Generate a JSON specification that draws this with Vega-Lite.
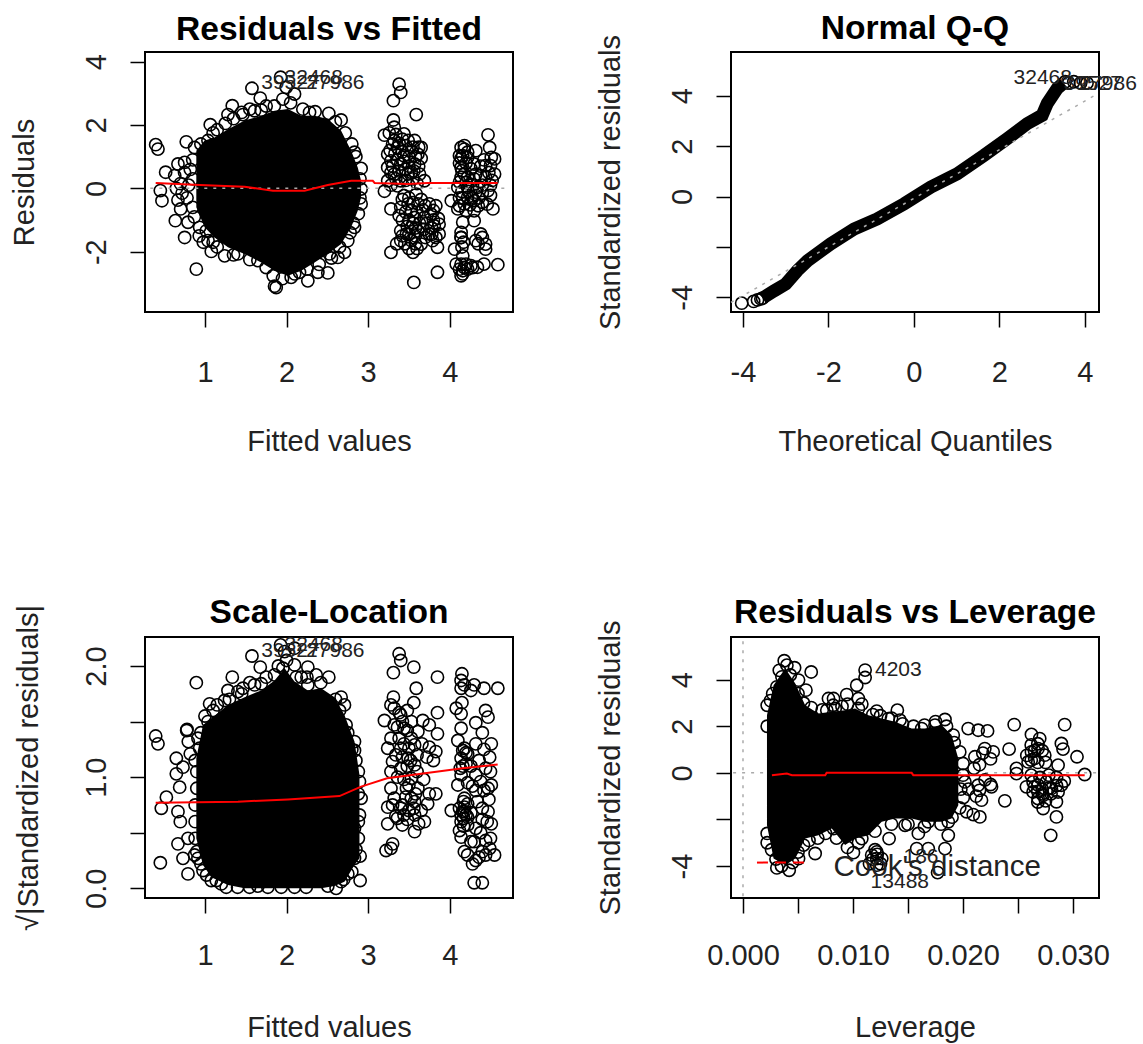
{"$schema":"https://vega.github.io/schema/vega-lite/v6.json","padding":{"left":9,"top":10,"right":0,"bottom":0},"background":"white","bounds":"flush","columns":2,"spacing":{"row":325,"column":218},"config":{"view":{"stroke":"#000","strokeWidth":2},"title":{"font":"Liberation Sans","fontSize":33.6,"fontWeight":"bold","color":"#000"},"axis":{"labelFont":"Liberation Sans","titleFont":"Liberation Sans","labelFontSize":29,"titleFontSize":29,"titleFontWeight":"normal","labelColor":"#222","titleColor":"#222","tickColor":"#000","tickWidth":1.5,"tickSize":15,"domain":false,"grid":false,"labelOverlap":false,"labelFlush":false,"labelBound":false}},"concat":[
{"title":{"text":"Residuals vs Fitted","offset":5},"width":368,"height":260,"encoding":{"x":{"field":"x","type":"quantitative","scale":{"domain":[0.265,4.776],"nice":false,"zero":false},"axis":{"title":"Fitted values","values":[1,2,3,4],"labelPadding":31,"titlePadding":40}},"y":{"field":"y","type":"quantitative","scale":{"domain":[-3.904,4.306],"nice":false,"zero":false},"axis":{"title":"Residuals","values":[-2,0,2,4],"labelAngle":-90,"labelAlign":"center","labelBaseline":"bottom","labelPadding":19,"titlePadding":43,"labelExpr":"datum.value<0?'-'+abs(datum.value):''+datum.value"}}},"layer":[
{"mark":{"type":"area","color":"#000","opacity":1},"data":{"values":[{"x":0.894,"y":1.19,"y2":-0.6},{"x":0.996,"y":1.51,"y2":-1.23},{"x":1.118,"y":1.61,"y2":-1.55},{"x":1.282,"y":1.87,"y2":-1.86},{"x":1.486,"y":2.14,"y2":-2.07},{"x":1.69,"y":2.29,"y2":-2.34},{"x":1.853,"y":2.45,"y2":-2.6},{"x":2.016,"y":2.51,"y2":-2.76},{"x":2.18,"y":2.29,"y2":-2.6},{"x":2.343,"y":2.29,"y2":-2.34},{"x":2.506,"y":2.19,"y2":-2.07},{"x":2.669,"y":1.82,"y2":-1.76},{"x":2.792,"y":1.19,"y2":-1.23},{"x":2.873,"y":0.66,"y2":-0.71},{"x":2.914,"y":0.24,"y2":-0.28}]},"encoding":{"y2":{"field":"y2"}}},
{"mark":{"type":"point","shape":"circle","filled":false,"stroke":"#000","strokeWidth":1.6,"size":150,"opacity":1},"data":{"values":[{"x":0.396,"y":1.38},{"x":0.424,"y":1.24},{"x":0.518,"y":0.51},{"x":0.453,"y":-0.07},{"x":0.473,"y":-0.39},{"x":0.637,"y":-1.02},{"x":0.669,"y":-0.37},{"x":0.702,"y":-0.65},{"x":0.792,"y":-1.07},{"x":0.751,"y":-1.55},{"x":0.771,"y":1.47},{"x":0.894,"y":-2.55},{"x":0.669,"y":0.77},{"x":0.629,"y":0.4},{"x":0.751,"y":0.82},{"x":0.873,"y":1.29},{"x":1.037,"y":1.51},{"x":1.065,"y":2.01},{"x":1.282,"y":2.33},{"x":1.335,"y":2.61},{"x":1.465,"y":2.33},{"x":1.576,"y":3.16},{"x":1.678,"y":2.85},{"x":1.608,"y":2.45},{"x":1.69,"y":2.47},{"x":1.853,"y":-3.09},{"x":1.873,"y":-3.13},{"x":2.261,"y":-2.92},{"x":2.506,"y":-2.67},{"x":2.71,"y":-2.02},{"x":2.629,"y":-2.18},{"x":2.527,"y":-2.07},{"x":2.914,"y":0.63},{"x":2.914,"y":-0.49},{"x":2.833,"y":1.14},{"x":2.669,"y":2.16},{"x":2.518,"y":2.37},{"x":2.282,"y":2.4},{"x":2.098,"y":2.98},{"x":1.955,"y":2.82},{"x":1.927,"y":3.51},{"x":1.996,"y":3.19},{"x":1.078,"y":-1.99},{"x":1.241,"y":-2.13},{"x":1.404,"y":-2.07},{"x":1.649,"y":-2.28},{"x":1.037,"y":-1.65},{"x":0.935,"y":-1.23},{"x":1.016,"y":-1.34},{"x":1.837,"y":-2.76},{"x":2.057,"y":-2.81},{"x":2.159,"y":-2.65},{"x":2.384,"y":-2.65},{"x":2.914,"y":-0.02},{"x":2.833,"y":-1.23},{"x":2.751,"y":-1.65},{"x":0.85,"y":0.9},{"x":0.82,"y":0.6},{"x":0.85,"y":0.3},{"x":0.8,"y":0.1},{"x":0.78,"y":-0.3},{"x":0.85,"y":-0.6},{"x":0.87,"y":-0.9},{"x":0.93,"y":-1.5},{"x":0.98,"y":-1.7},{"x":1.0,"y":1.0},{"x":0.95,"y":1.4},{"x":1.1,"y":1.75},{"x":1.15,"y":1.85},{"x":1.25,"y":2.05},{"x":1.35,"y":2.2},{"x":1.45,"y":2.4},{"x":1.55,"y":2.5},{"x":1.75,"y":2.6},{"x":1.85,"y":2.6},{"x":2.05,"y":2.7},{"x":2.2,"y":2.5},{"x":2.35,"y":2.42},{"x":2.6,"y":2.1},{"x":2.72,"y":1.75},{"x":2.8,"y":1.4},{"x":2.85,"y":1.0},{"x":2.9,"y":0.3},{"x":2.9,"y":-0.3},{"x":2.88,"y":-0.8},{"x":2.82,"y":-1.1},{"x":2.78,"y":-1.4},{"x":2.65,"y":-1.85},{"x":2.55,"y":-2.2},{"x":2.4,"y":-2.4},{"x":2.25,"y":-2.55},{"x":2.1,"y":-2.7},{"x":1.95,"y":-2.85},{"x":1.75,"y":-2.5},{"x":1.55,"y":-2.25},{"x":1.35,"y":-2.1},{"x":1.15,"y":-1.85},{"x":1.1,"y":-1.7},{"x":0.7,"y":0.15},{"x":0.75,"y":0.5},{"x":0.65,"y":0.0},{"x":0.72,"y":-0.15},{"x":3.38,"y":3.29},{"x":3.4,"y":3.03},{"x":3.31,"y":2.77},{"x":3.59,"y":2.33},{"x":3.31,"y":2.16},{"x":3.2,"y":1.68},{"x":3.65,"y":1.29},{"x":3.32,"y":1.93},{"x":3.44,"y":1.72},{"x":3.57,"y":1.51},{"x":3.24,"y":1.08},{"x":3.36,"y":1.29},{"x":3.53,"y":1.19},{"x":3.24,"y":0.66},{"x":3.4,"y":0.77},{"x":3.57,"y":0.77},{"x":3.32,"y":0.45},{"x":3.49,"y":0.45},{"x":3.63,"y":0.45},{"x":3.69,"y":0.24},{"x":3.24,"y":0.24},{"x":3.4,"y":0.24},{"x":3.32,"y":1.51},{"x":3.49,"y":1.51},{"x":3.61,"y":1.08},{"x":3.28,"y":0.87},{"x":3.44,"y":1.03},{"x":3.53,"y":0.51},{"x":3.26,"y":1.75},{"x":3.34,"y":1.7},{"x":3.42,"y":1.55},{"x":3.3,"y":1.4},{"x":3.38,"y":1.42},{"x":3.46,"y":1.35},{"x":3.55,"y":1.3},{"x":3.62,"y":1.3},{"x":3.27,"y":1.2},{"x":3.33,"y":1.1},{"x":3.42,"y":1.15},{"x":3.5,"y":1.0},{"x":3.58,"y":1.0},{"x":3.65,"y":0.95},{"x":3.3,"y":0.7},{"x":3.36,"y":0.9},{"x":3.44,"y":0.85},{"x":3.5,"y":0.7},{"x":3.62,"y":0.7},{"x":3.28,"y":0.5},{"x":3.38,"y":0.55},{"x":3.46,"y":0.6},{"x":3.56,"y":0.55},{"x":3.34,"y":0.3},{"x":3.46,"y":0.25},{"x":3.55,"y":0.3},{"x":3.6,"y":0.15},{"x":3.28,"y":0.1},{"x":3.36,"y":0.08},{"x":3.5,"y":0.1},{"x":3.2,"y":-0.09},{"x":3.28,"y":-0.65},{"x":3.38,"y":-0.86},{"x":3.44,"y":-0.23},{"x":3.59,"y":-0.18},{"x":3.49,"y":-0.49},{"x":3.61,"y":-0.49},{"x":3.75,"y":-0.49},{"x":3.83,"y":-0.55},{"x":3.87,"y":-1.13},{"x":3.81,"y":-1.18},{"x":3.57,"y":-0.92},{"x":3.53,"y":-1.23},{"x":3.4,"y":-1.34},{"x":3.61,"y":-1.34},{"x":3.75,"y":-1.44},{"x":3.87,"y":-1.44},{"x":3.4,"y":-1.65},{"x":3.53,"y":-1.65},{"x":3.65,"y":-1.76},{"x":3.79,"y":-1.65},{"x":3.85,"y":-1.86},{"x":3.28,"y":-2.02},{"x":3.55,"y":-2.02},{"x":3.85,"y":-2.65},{"x":3.56,"y":-2.97},{"x":3.47,"y":-1.44},{"x":3.69,"y":-0.92},{"x":3.77,"y":-0.81},{"x":3.42,"y":-0.35},{"x":3.5,"y":-0.3},{"x":3.55,"y":-0.45},{"x":3.65,"y":-0.35},{"x":3.7,"y":-0.55},{"x":3.4,"y":-0.6},{"x":3.46,"y":-0.75},{"x":3.53,"y":-0.7},{"x":3.6,"y":-0.75},{"x":3.67,"y":-0.68},{"x":3.8,"y":-0.7},{"x":3.42,"y":-1.0},{"x":3.5,"y":-1.0},{"x":3.55,"y":-1.1},{"x":3.63,"y":-1.1},{"x":3.72,"y":-1.1},{"x":3.8,"y":-1.0},{"x":3.86,"y":-0.95},{"x":3.48,"y":-1.2},{"x":3.58,"y":-1.25},{"x":3.68,"y":-1.3},{"x":3.78,"y":-1.25},{"x":3.42,"y":-1.5},{"x":3.5,"y":-1.45},{"x":3.58,"y":-1.5},{"x":3.7,"y":-1.55},{"x":3.78,"y":-1.45},{"x":3.83,"y":-1.55},{"x":3.45,"y":-1.75},{"x":3.58,"y":-1.75},{"x":3.35,"y":-1.75},{"x":3.6,"y":-1.9},{"x":3.5,"y":-1.9},{"x":4.47,"y":1.69},{"x":4.49,"y":1.29},{"x":4.18,"y":1.24},{"x":4.14,"y":1.29},{"x":4.22,"y":1.14},{"x":4.16,"y":1.03},{"x":4.22,"y":0.98},{"x":4.12,"y":1.03},{"x":4.18,"y":1.35},{"x":4.32,"y":1.19},{"x":4.51,"y":0.98},{"x":4.3,"y":0.77},{"x":4.44,"y":0.72},{"x":4.55,"y":0.93},{"x":4.14,"y":0.66},{"x":4.32,"y":0.45},{"x":4.14,"y":0.35},{"x":4.22,"y":0.35},{"x":4.44,"y":0.35},{"x":4.55,"y":0.45},{"x":4.02,"y":-0.39},{"x":4.1,"y":0.03},{"x":4.22,"y":0.03},{"x":4.34,"y":0.03},{"x":4.47,"y":-0.07},{"x":4.53,"y":-0.65},{"x":4.1,"y":-0.65},{"x":4.3,"y":-0.39},{"x":4.22,"y":-0.28},{"x":4.4,"y":-0.44},{"x":4.18,"y":-0.49},{"x":4.3,"y":-0.71},{"x":4.16,"y":-1.07},{"x":4.3,"y":-1.02},{"x":4.14,"y":-1.39},{"x":4.38,"y":-1.44},{"x":4.14,"y":-1.55},{"x":4.32,"y":-1.65},{"x":4.44,"y":-1.76},{"x":4.44,"y":-1.92},{"x":4.06,"y":-1.92},{"x":4.16,"y":-2.13},{"x":4.59,"y":-2.41},{"x":4.42,"y":-2.39},{"x":4.14,"y":-2.39},{"x":4.26,"y":-2.44},{"x":4.16,"y":-2.6},{"x":4.14,"y":-2.76},{"x":4.34,"y":-2.49},{"x":4.2,"y":-2.39},{"x":4.08,"y":-2.39},{"x":4.14,"y":0.95},{"x":4.12,"y":0.8},{"x":4.2,"y":0.8},{"x":4.15,"y":0.55},{"x":4.26,"y":0.62},{"x":4.18,"y":0.45},{"x":4.3,"y":0.3},{"x":4.38,"y":0.4},{"x":4.48,"y":0.5},{"x":4.5,"y":0.72},{"x":4.42,"y":0.9},{"x":4.38,"y":0.7},{"x":4.52,"y":0.25},{"x":4.12,"y":0.2},{"x":4.2,"y":0.18},{"x":4.28,"y":0.12},{"x":4.4,"y":0.1},{"x":4.5,"y":0.1},{"x":4.15,"y":-0.1},{"x":4.23,"y":-0.1},{"x":4.32,"y":-0.12},{"x":4.4,"y":-0.15},{"x":4.5,"y":-0.22},{"x":4.12,"y":-0.3},{"x":4.28,"y":-0.3},{"x":4.16,"y":-0.3},{"x":4.36,"y":-0.3},{"x":4.25,"y":-0.52},{"x":4.35,"y":-0.55},{"x":4.46,"y":-0.5},{"x":4.12,"y":-0.55},{"x":4.2,"y":-0.7},{"x":4.14,"y":-1.55},{"x":4.17,"y":-1.7},{"x":4.15,"y":-1.85},{"x":4.35,"y":-1.75},{"x":4.4,"y":-1.55},{"x":4.18,"y":-2.5},{"x":4.22,"y":-2.55},{"x":4.12,"y":-2.55},{"x":4.16,"y":-2.7},{"x":4.28,"y":-2.5}]}},
{"mark":{"type":"line","color":"#aaa","strokeWidth":1.5,"strokeDash":[3,6]},"data":{"values":[{"x":0.33,"y":0},{"x":4.72,"y":0}]}},
{"mark":{"type":"line","color":"#f00","strokeWidth":2},"data":{"values":[{"x":0.396,"y":0.17},{"x":0.935,"y":0.105},{"x":1.486,"y":0.05},{"x":1.833,"y":-0.075},{"x":2.22,"y":-0.075},{"x":2.506,"y":0.105},{"x":2.792,"y":0.24},{"x":3.057,"y":0.24},{"x":3.08,"y":0.17},{"x":3.486,"y":0.14},{"x":3.73,"y":0.17},{"x":4.588,"y":0.17}]}},
{"mark":{"type":"text","align":"left","baseline":"middle","fontSize":21,"font":"Liberation Sans","color":"#222"},"data":{"values":[{"x":1.69,"y":3.32,"t":"39527"},{"x":2.24,"y":3.32,"t":"27986"},{"x":1.976,"y":3.5,"t":"32468"}]},"encoding":{"text":{"field":"t"}}}
]},
{"title":{"text":"Normal Q-Q","offset":-11},"width":368,"height":260,"encoding":{"x":{"field":"x","type":"quantitative","scale":{"domain":[-4.28,4.33],"nice":false,"zero":false},"axis":{"title":"Theoretical Quantiles","values":[-4,-2,0,2,4],"labelPadding":31,"titlePadding":40,"labelExpr":"datum.value<0?'-'+abs(datum.value):''+datum.value"}},"y":{"field":"y","type":"quantitative","scale":{"domain":[-4.58,5.73],"nice":false,"zero":false},"axis":{"title":"Standardized residuals","values":[-4,-2,0,2,4],"labelAngle":-90,"labelAlign":"center","labelBaseline":"bottom","labelPadding":19,"titlePadding":43,"labelExpr":"datum.value==-2?'':datum.value<0?'-'+abs(datum.value):''+datum.value"}}},"layer":[
{"mark":{"type":"line","color":"#000","strokeWidth":13},"data":{"values":[{"x":-3.54,"y":-4.03},{"x":-3.27,"y":-3.74},{"x":-3.0,"y":-3.47},{"x":-2.73,"y":-2.94},{"x":-2.49,"y":-2.55},{"x":-1.95,"y":-1.88},{"x":-1.4,"y":-1.29},{"x":-0.86,"y":-0.89},{"x":-0.23,"y":-0.29},{"x":0.39,"y":0.37},{"x":1.01,"y":0.9},{"x":1.64,"y":1.63},{"x":2.18,"y":2.29},{"x":2.65,"y":2.89},{"x":3.0,"y":3.22},{"x":3.12,"y":3.69},{"x":3.35,"y":4.28},{"x":3.5,"y":4.5}]}},
{"mark":{"type":"point","shape":"circle","filled":false,"stroke":"#000","strokeWidth":1.6,"size":150,"opacity":1},"data":{"values":[{"x":-4.03,"y":-4.23},{"x":-3.75,"y":-4.16},{"x":-3.66,"y":-4.1},{"x":-3.58,"y":-4.06},{"x":-3.54,"y":-4.03},{"x":3.54,"y":4.55},{"x":3.62,"y":4.5},{"x":3.74,"y":4.55},{"x":3.9,"y":4.5},{"x":4.05,"y":4.5}]}},
{"mark":{"type":"line","color":"#aaa","strokeWidth":1.5,"strokeDash":[3,6]},"data":{"values":[{"x":-4.28,"y":-4.2},{"x":4.2,"y":3.98}]}},
{"mark":{"type":"text","align":"left","baseline":"middle","fontSize":21,"font":"Liberation Sans","color":"#222"},"data":{"values":[{"x":2.33,"y":4.68,"t":"32468"},{"x":3.5,"y":4.48,"t":"39527"},{"x":3.85,"y":4.48,"t":"27986"}]},"encoding":{"text":{"field":"t"}}}
]},
{"title":{"text":"Scale-Location","offset":-25},"width":368,"height":261,"encoding":{"x":{"field":"x","type":"quantitative","scale":{"domain":[0.265,4.776],"nice":false,"zero":false},"axis":{"title":"Fitted values","values":[1,2,3,4],"labelPadding":28,"titlePadding":43}},"y":{"field":"y","type":"quantitative","scale":{"domain":[-0.087,2.261],"nice":false,"zero":false},"axis":{"title":"√|Standardized residuals|","values":[0,0.5,1,1.5,2],"labelAngle":-90,"labelAlign":"center","labelBaseline":"bottom","labelPadding":19,"titlePadding":39,"labelExpr":"datum.value==0?'0.0':datum.value==1?'1.0':datum.value==2?'2.0':''"}}},"layer":[
{"mark":{"type":"area","color":"#000","opacity":1},"data":{"values":[{"x":0.894,"y":1.17,"y2":0.45},{"x":0.976,"y":1.47,"y2":0.21},{"x":1.078,"y":1.53,"y2":0.1},{"x":1.282,"y":1.65,"y2":0.03},{"x":1.486,"y":1.72,"y2":0},{"x":1.69,"y":1.78,"y2":0},{"x":1.853,"y":1.87,"y2":0},{"x":1.976,"y":1.98,"y2":0},{"x":2.098,"y":1.86,"y2":0},{"x":2.261,"y":1.78,"y2":0},{"x":2.424,"y":1.8,"y2":0},{"x":2.588,"y":1.72,"y2":0.02},{"x":2.71,"y":1.56,"y2":0.06},{"x":2.833,"y":1.32,"y2":0.21},{"x":2.894,"y":1.02,"y2":0.27}]},"encoding":{"y2":{"field":"y2"}}},
{"mark":{"type":"point","shape":"circle","filled":false,"stroke":"#000","strokeWidth":1.6,"size":150,"opacity":1},"data":{"values":[{"x":0.396,"y":1.37},{"x":0.424,"y":1.3},{"x":0.453,"y":0.23},{"x":0.527,"y":0.82},{"x":0.465,"y":0.72},{"x":0.649,"y":1.17},{"x":0.69,"y":0.91},{"x":0.649,"y":1.03},{"x":0.731,"y":1.09},{"x":0.669,"y":0.4},{"x":0.894,"y":1.85},{"x":0.776,"y":1.42},{"x":0.78,"y":1.43},{"x":0.796,"y":1.32},{"x":0.82,"y":1.21},{"x":0.669,"y":0.69},{"x":0.698,"y":0.6},{"x":0.792,"y":0.45},{"x":0.731,"y":0.27},{"x":0.792,"y":0.13},{"x":0.935,"y":1.26},{"x":0.914,"y":1.35},{"x":0.914,"y":0.27},{"x":0.873,"y":0.3},{"x":1.057,"y":1.66},{"x":1.282,"y":1.78},{"x":1.335,"y":1.9},{"x":1.465,"y":1.8},{"x":1.576,"y":2.09},{"x":1.678,"y":1.99},{"x":1.608,"y":1.83},{"x":1.69,"y":1.84},{"x":1.261,"y":0.01},{"x":1.078,"y":0.07},{"x":0.976,"y":0.16},{"x":1.139,"y":0.07},{"x":1.037,"y":1.5},{"x":1.241,"y":1.69},{"x":1.404,"y":1.77},{"x":1.927,"y":2.19},{"x":1.976,"y":2.13},{"x":2.098,"y":2.01},{"x":2.261,"y":1.99},{"x":2.18,"y":1.9},{"x":2.363,"y":1.92},{"x":2.518,"y":1.9},{"x":2.669,"y":1.72},{"x":2.71,"y":1.65},{"x":2.73,"y":1.47},{"x":2.833,"y":1.32},{"x":2.833,"y":1.24},{"x":2.894,"y":0.96},{"x":2.914,"y":0.81},{"x":2.894,"y":0.66},{"x":2.833,"y":0.54},{"x":2.902,"y":0.29},{"x":2.902,"y":0.07},{"x":2.608,"y":0.0},{"x":2.751,"y":0.13},{"x":1.547,"y":0.01},{"x":1.771,"y":0.01},{"x":1.935,"y":0.01},{"x":2.241,"y":0.01},{"x":2.506,"y":0.02},{"x":2.098,"y":0.01},{"x":1.649,"y":0.02},{"x":2.669,"y":0.06},{"x":2.833,"y":0.27},{"x":1.853,"y":1.92},{"x":1.955,"y":1.98},{"x":2.098,"y":2.16},{"x":2.261,"y":1.83},{"x":0.88,"y":0.45},{"x":0.88,"y":0.6},{"x":0.88,"y":0.75},{"x":0.9,"y":0.9},{"x":0.9,"y":1.05},{"x":0.88,"y":1.15},{"x":0.95,"y":1.4},{"x":1.0,"y":1.55},{"x":1.1,"y":1.6},{"x":1.15,"y":1.65},{"x":1.3,"y":1.7},{"x":1.45,"y":1.75},{"x":1.55,"y":1.85},{"x":1.75,"y":1.9},{"x":1.9,"y":2.0},{"x":2.0,"y":2.05},{"x":2.12,"y":1.9},{"x":2.25,"y":1.9},{"x":2.42,"y":1.85},{"x":2.6,"y":1.7},{"x":2.65,"y":1.6},{"x":2.75,"y":1.4},{"x":2.8,"y":1.25},{"x":2.85,"y":1.15},{"x":2.88,"y":1.05},{"x":2.88,"y":0.85},{"x":2.88,"y":0.6},{"x":2.88,"y":0.45},{"x":2.85,"y":0.35},{"x":2.8,"y":0.15},{"x":2.7,"y":0.08},{"x":1.02,"y":0.12},{"x":0.95,"y":0.22},{"x":0.9,"y":0.33},{"x":1.2,"y":0.04},{"x":1.4,"y":0.01},{"x":3.38,"y":2.11},{"x":3.4,"y":2.05},{"x":3.56,"y":1.99},{"x":3.31,"y":1.94},{"x":3.85,"y":1.9},{"x":3.59,"y":1.8},{"x":3.31,"y":1.72},{"x":3.56,"y":1.67},{"x":3.28,"y":1.65},{"x":3.32,"y":1.62},{"x":3.85,"y":1.58},{"x":3.2,"y":1.51},{"x":3.67,"y":1.51},{"x":3.4,"y":1.56},{"x":3.53,"y":1.5},{"x":3.32,"y":1.47},{"x":3.44,"y":1.44},{"x":3.61,"y":1.41},{"x":3.75,"y":1.47},{"x":3.85,"y":1.39},{"x":3.28,"y":1.35},{"x":3.53,"y":1.35},{"x":3.83,"y":1.23},{"x":3.24,"y":1.26},{"x":3.4,"y":1.26},{"x":3.57,"y":1.29},{"x":3.75,"y":1.27},{"x":3.3,"y":1.14},{"x":3.49,"y":1.17},{"x":3.57,"y":1.11},{"x":3.4,"y":1.08},{"x":3.28,"y":1.05},{"x":3.53,"y":0.99},{"x":3.28,"y":0.9},{"x":3.47,"y":0.9},{"x":3.61,"y":0.9},{"x":3.75,"y":0.85},{"x":3.83,"y":0.85},{"x":3.32,"y":0.81},{"x":3.53,"y":0.81},{"x":3.73,"y":0.76},{"x":3.24,"y":0.73},{"x":3.4,"y":0.72},{"x":3.57,"y":0.78},{"x":3.24,"y":0.58},{"x":3.42,"y":0.57},{"x":3.57,"y":0.66},{"x":3.69,"y":0.6},{"x":3.57,"y":0.51},{"x":3.3,"y":0.4},{"x":3.22,"y":0.34},{"x":3.28,"y":0.36},{"x":3.44,"y":0.66},{"x":3.36,"y":0.63},{"x":3.36,"y":1.45},{"x":3.42,"y":1.5},{"x":3.48,"y":1.42},{"x":3.38,"y":1.35},{"x":3.44,"y":1.3},{"x":3.5,"y":1.26},{"x":3.6,"y":1.2},{"x":3.34,"y":1.2},{"x":3.42,"y":1.18},{"x":3.48,"y":1.1},{"x":3.52,"y":1.15},{"x":3.6,"y":1.05},{"x":3.36,"y":1.0},{"x":3.44,"y":0.98},{"x":3.5,"y":0.93},{"x":3.58,"y":0.85},{"x":3.46,"y":0.82},{"x":3.42,"y":0.75},{"x":3.5,"y":0.7},{"x":3.56,"y":0.72},{"x":3.65,"y":0.7},{"x":3.3,"y":0.75},{"x":3.34,"y":0.65},{"x":3.48,"y":0.62},{"x":3.62,"y":0.58},{"x":3.38,"y":1.58},{"x":3.48,"y":1.6},{"x":3.66,"y":1.3},{"x":3.72,"y":1.18},{"x":3.8,"y":1.15},{"x":3.68,"y":0.98},{"x":4.15,"y":1.93},{"x":4.14,"y":1.87},{"x":4.18,"y":1.83},{"x":4.3,"y":1.83},{"x":4.42,"y":1.8},{"x":4.59,"y":1.8},{"x":4.14,"y":1.8},{"x":4.26,"y":1.78},{"x":4.15,"y":1.67},{"x":4.08,"y":1.62},{"x":4.44,"y":1.6},{"x":4.47,"y":1.54},{"x":4.14,"y":1.57},{"x":4.32,"y":1.49},{"x":4.14,"y":1.44},{"x":4.4,"y":1.4},{"x":4.1,"y":1.33},{"x":4.32,"y":1.3},{"x":4.51,"y":1.3},{"x":4.18,"y":1.26},{"x":4.22,"y":1.21},{"x":4.14,"y":1.17},{"x":4.49,"y":1.18},{"x":4.44,"y":1.08},{"x":4.32,"y":1.02},{"x":4.14,"y":1.02},{"x":4.1,"y":0.93},{"x":4.51,"y":0.93},{"x":4.32,"y":0.88},{"x":4.47,"y":0.9},{"x":4.18,"y":0.81},{"x":4.34,"y":0.78},{"x":4.02,"y":0.7},{"x":4.18,"y":0.69},{"x":4.47,"y":0.69},{"x":4.22,"y":0.64},{"x":4.14,"y":0.6},{"x":4.51,"y":0.58},{"x":4.32,"y":0.54},{"x":4.14,"y":0.46},{"x":4.3,"y":0.42},{"x":4.44,"y":0.43},{"x":4.18,"y":0.33},{"x":4.4,"y":0.33},{"x":4.55,"y":0.3},{"x":4.32,"y":0.25},{"x":4.49,"y":0.36},{"x":4.3,"y":0.05},{"x":4.4,"y":0.05},{"x":4.22,"y":0.57},{"x":4.18,"y":0.73},{"x":4.16,"y":1.24},{"x":4.2,"y":1.22},{"x":4.16,"y":0.69},{"x":4.2,"y":0.66},{"x":4.17,"y":0.63},{"x":4.16,"y":1.1},{"x":4.2,"y":1.12},{"x":4.13,"y":1.08},{"x":4.12,"y":0.72},{"x":4.17,"y":0.78},{"x":4.22,"y":0.76},{"x":4.26,"y":0.68},{"x":4.38,"y":0.96},{"x":4.42,"y":0.88},{"x":4.5,"y":1.05},{"x":4.48,"y":0.8},{"x":4.4,"y":0.72},{"x":4.46,"y":0.6},{"x":4.26,"y":1.1},{"x":4.36,"y":1.15},{"x":4.42,"y":1.25},{"x":4.28,"y":0.92},{"x":4.22,"y":0.95},{"x":4.14,"y":0.66},{"x":4.17,"y":0.56},{"x":4.12,"y":0.52},{"x":4.26,"y":0.42},{"x":4.38,"y":0.5},{"x":4.5,"y":0.45},{"x":4.44,"y":0.3},{"x":4.36,"y":0.28},{"x":4.22,"y":0.3},{"x":4.28,"y":0.22},{"x":4.4,"y":0.62}]}},
{"mark":{"type":"line","color":"#f00","strokeWidth":2},"data":{"values":[{"x":0.396,"y":0.77},{"x":1.404,"y":0.78},{"x":2.016,"y":0.8},{"x":2.649,"y":0.83},{"x":2.914,"y":0.915},{"x":3.233,"y":0.99},{"x":4.16,"y":1.08},{"x":4.588,"y":1.115}]}},
{"mark":{"type":"text","align":"left","baseline":"middle","fontSize":21,"font":"Liberation Sans","color":"#222"},"data":{"values":[{"x":1.69,"y":2.135,"t":"39527"},{"x":2.24,"y":2.135,"t":"27986"},{"x":1.976,"y":2.19,"t":"32468"}]},"encoding":{"text":{"field":"t"}}}
]},
{"title":{"text":"Residuals vs Leverage","offset":-10},"width":368,"height":261,"encoding":{"x":{"field":"x","type":"quantitative","scale":{"domain":[-0.00109,0.03236],"nice":false,"zero":false},"axis":{"title":"Leverage","values":[0,0.005,0.01,0.015,0.02,0.025,0.03],"labelPadding":28,"titlePadding":43,"labelExpr":"datum.value==0?'0.000':abs(datum.value-0.01)<0.0001?'0.010':abs(datum.value-0.02)<0.0001?'0.020':abs(datum.value-0.03)<0.0001?'0.030':''"}},"y":{"field":"y","type":"quantitative","scale":{"domain":[-5.37,5.83],"nice":false,"zero":false},"axis":{"title":"Standardized residuals","values":[-4,-2,0,2,4],"labelAngle":-90,"labelAlign":"center","labelBaseline":"bottom","labelPadding":19,"titlePadding":43,"labelExpr":"datum.value==-2?'':datum.value<0?'-'+abs(datum.value):''+datum.value"}}},"layer":[
{"mark":{"type":"line","color":"#aaa","strokeWidth":1.5,"strokeDash":[3,6]},"data":{"values":[{"x":-0.0009,"y":0},{"x":0.0322,"y":0}]}},
{"mark":{"type":"line","color":"#aaa","strokeWidth":1.5,"strokeDash":[3,6]},"data":{"values":[{"x":0,"y":-5.3},{"x":0,"y":5.75}]},"encoding":{"order":{"field":"y"}}},
{"mark":{"type":"area","color":"#000","opacity":1},"data":{"values":[{"x":0.00218,"y":2.47,"y2":-2.25},{"x":0.00278,"y":3.76,"y2":-3.68},{"x":0.00384,"y":4.48,"y2":-3.96},{"x":0.00475,"y":3.83,"y2":-3.68},{"x":0.00565,"y":2.9,"y2":-2.82},{"x":0.00686,"y":2.55,"y2":-2.68},{"x":0.00807,"y":2.62,"y2":-2.39},{"x":0.00928,"y":2.69,"y2":-3.1},{"x":0.01019,"y":2.76,"y2":-2.82},{"x":0.0114,"y":2.47,"y2":-2.68},{"x":0.01261,"y":2.33,"y2":-2.1},{"x":0.01382,"y":2.19,"y2":-1.96},{"x":0.01533,"y":1.9,"y2":-1.96},{"x":0.01654,"y":1.9,"y2":-2.1},{"x":0.01805,"y":2.05,"y2":-2.1},{"x":0.01896,"y":1.62,"y2":-1.96},{"x":0.01957,"y":0.62,"y2":-1.39}]},"encoding":{"y2":{"field":"y2"}}},
{"mark":{"type":"point","shape":"circle","filled":false,"stroke":"#000","strokeWidth":1.6,"size":150,"opacity":1},"data":{"values":[{"x":0.00375,"y":4.81},{"x":0.00399,"y":4.62},{"x":0.00469,"y":4.51},{"x":0.0062,"y":4.33},{"x":0.00354,"y":4.12},{"x":0.00505,"y":3.98},{"x":0.00308,"y":3.69},{"x":0.00572,"y":3.55},{"x":0.00777,"y":3.19},{"x":0.00823,"y":3.19},{"x":0.00943,"y":3.36},{"x":0.01049,"y":3.19},{"x":0.01034,"y":3.76},{"x":0.0111,"y":4.09},{"x":0.0111,"y":4.41},{"x":0.00762,"y":2.69},{"x":0.00838,"y":2.76},{"x":0.01049,"y":2.76},{"x":0.01216,"y":2.65},{"x":0.01403,"y":2.69},{"x":0.01321,"y":2.33},{"x":0.01427,"y":2.26},{"x":0.01836,"y":2.29},{"x":0.01745,"y":2.05},{"x":0.01624,"y":1.9},{"x":0.01911,"y":1.62},{"x":0.02047,"y":1.9},{"x":0.02138,"y":1.83},{"x":0.02223,"y":1.8},{"x":0.02465,"y":2.07},{"x":0.02924,"y":2.07},{"x":0.02622,"y":1.65},{"x":0.02697,"y":1.47},{"x":0.02419,"y":1.02},{"x":0.02894,"y":1.26},{"x":0.02909,"y":1.02},{"x":0.03036,"y":0.69},{"x":0.02198,"y":1.04},{"x":0.02274,"y":0.9},{"x":0.02108,"y":0.69},{"x":0.02622,"y":0.9},{"x":0.02682,"y":1.04},{"x":0.02652,"y":0.62},{"x":0.02743,"y":0.76},{"x":0.02592,"y":0.47},{"x":0.02864,"y":0.33},{"x":0.02486,"y":0.19},{"x":0.03106,"y":-0.07},{"x":0.02017,"y":-0.39},{"x":0.02002,"y":-1.06},{"x":0.02138,"y":-0.53},{"x":0.02168,"y":-1.17},{"x":0.02259,"y":-0.6},{"x":0.0238,"y":-1.2},{"x":0.02032,"y":-1.67},{"x":0.02093,"y":-1.79},{"x":0.02153,"y":-1.89},{"x":0.02576,"y":-0.6},{"x":0.02637,"y":-0.82},{"x":0.02682,"y":-0.53},{"x":0.02758,"y":-0.39},{"x":0.02803,"y":-0.67},{"x":0.02894,"y":-0.53},{"x":0.02849,"y":-1.24},{"x":0.02728,"y":-1.53},{"x":0.02682,"y":-1.1},{"x":0.02849,"y":-1.89},{"x":0.02797,"y":-2.68},{"x":0.02864,"y":-0.82},{"x":0.02486,"y":-0.03},{"x":0.02637,"y":-0.39},{"x":0.02728,"y":-0.96},{"x":0.00656,"y":-3.46},{"x":0.01004,"y":-3.42},{"x":0.00308,"y":-4.08},{"x":0.0042,"y":-4.18},{"x":0.01216,"y":-3.39},{"x":0.01216,"y":-3.68},{"x":0.0117,"y":-3.53},{"x":0.01261,"y":-3.68},{"x":0.01328,"y":-2.82},{"x":0.01579,"y":-3.25},{"x":0.01684,"y":-3.25},{"x":0.01836,"y":-3.25},{"x":0.01866,"y":-2.68},{"x":0.01594,"y":-2.6},{"x":0.01684,"y":-2.1},{"x":0.01769,"y":-4.28},{"x":0.00823,"y":-2.39},{"x":0.0108,"y":-2.82},{"x":0.00505,"y":-3.68},{"x":0.01473,"y":-2.25},{"x":0.01866,"y":-2.1},{"x":0.01216,"y":-3.96},{"x":0.0022,"y":2.9},{"x":0.0022,"y":2.0},{"x":0.0025,"y":3.1},{"x":0.0027,"y":3.4},{"x":0.0022,"y":-2.6},{"x":0.0022,"y":-3.0},{"x":0.0026,"y":-3.3},{"x":0.003,"y":-3.7},{"x":0.0035,"y":-4.0},{"x":0.0045,"y":-3.85},{"x":0.005,"y":-3.4},{"x":0.0055,"y":-3.1},{"x":0.006,"y":-2.9},{"x":0.0043,"y":4.2},{"x":0.0033,"y":4.4},{"x":0.005,"y":3.4},{"x":0.0055,"y":3.0},{"x":0.0062,"y":2.8},{"x":0.0072,"y":2.7},{"x":0.0082,"y":2.9},{"x":0.009,"y":2.85},{"x":0.0095,"y":2.95},{"x":0.0108,"y":2.95},{"x":0.0118,"y":2.5},{"x":0.0125,"y":2.45},{"x":0.0135,"y":2.35},{"x":0.0145,"y":2.1},{"x":0.0155,"y":2.0},{"x":0.0165,"y":2.05},{"x":0.0175,"y":2.2},{"x":0.0185,"y":2.0},{"x":0.0192,"y":1.3},{"x":0.0197,"y":0.9},{"x":0.02,"y":0.4},{"x":0.02,"y":-0.1},{"x":0.0198,"y":-0.7},{"x":0.0197,"y":-1.5},{"x":0.019,"y":-1.9},{"x":0.018,"y":-2.2},{"x":0.0165,"y":-2.3},{"x":0.015,"y":-2.2},{"x":0.0135,"y":-2.2},{"x":0.012,"y":-2.5},{"x":0.0105,"y":-3.0},{"x":0.0095,"y":-3.2},{"x":0.0085,"y":-2.8},{"x":0.0075,"y":-2.6},{"x":0.0068,"y":-2.8},{"x":0.0118,"y":-3.7},{"x":0.0122,"y":-3.5},{"x":0.012,"y":-3.3},{"x":0.0125,"y":-3.9},{"x":0.0115,"y":-3.9},{"x":0.0262,"y":1.2},{"x":0.0268,"y":1.25},{"x":0.0265,"y":0.95},{"x":0.0272,"y":0.95},{"x":0.0258,"y":0.75},{"x":0.0262,"y":0.55},{"x":0.0268,"y":0.45},{"x":0.0275,"y":0.45},{"x":0.0262,"y":-0.1},{"x":0.027,"y":-0.2},{"x":0.0278,"y":-0.1},{"x":0.0285,"y":-0.2},{"x":0.0292,"y":-0.35},{"x":0.0265,"y":-0.6},{"x":0.0272,"y":-0.7},{"x":0.028,"y":-0.9},{"x":0.0272,"y":-0.9},{"x":0.0268,"y":-0.8},{"x":0.0278,"y":-0.65},{"x":0.0285,"y":-0.55},{"x":0.0275,"y":-1.2},{"x":0.0268,"y":-1.25},{"x":0.0218,"y":0.85},{"x":0.0225,"y":0.6},{"x":0.0215,"y":0.35},{"x":0.022,"y":-0.3},{"x":0.0225,"y":-0.5},{"x":0.0215,"y":-0.75},{"x":0.0205,"y":-0.7},{"x":0.0212,"y":-1.0},{"x":0.021,"y":0.2}]}},
{"mark":{"type":"line","color":"#f00","strokeWidth":2,"strokeDash":[11,7]},"data":{"values":[{"x":0.00127,"y":-3.85},{"x":0.00596,"y":-3.85}]}},
{"mark":{"type":"line","color":"#f00","strokeWidth":2},"data":{"values":[{"x":0.00263,"y":-0.1},{"x":0.00399,"y":-0.03},{"x":0.00445,"y":-0.1},{"x":0.00747,"y":-0.1},{"x":0.0076,"y":0},{"x":0.01533,"y":0},{"x":0.01548,"y":-0.1},{"x":0.03106,"y":-0.1}]}},
{"mark":{"type":"text","align":"left","baseline":"middle","fontSize":21,"font":"Liberation Sans","color":"#222"},"data":{"values":[{"x":0.012,"y":4.41,"t":"4203"},{"x":0.01459,"y":-3.6,"t":"186"},{"x":0.0116,"y":-4.68,"t":"13488"}]},"encoding":{"text":{"field":"t"}}},
{"mark":{"type":"text","align":"left","baseline":"middle","fontSize":29.5,"font":"Liberation Sans","color":"#222"},"data":{"values":[{"x":0.00823,"y":-4.03,"t":"Cook's distance"}]},"encoding":{"text":{"field":"t"}}}
]}
]}
